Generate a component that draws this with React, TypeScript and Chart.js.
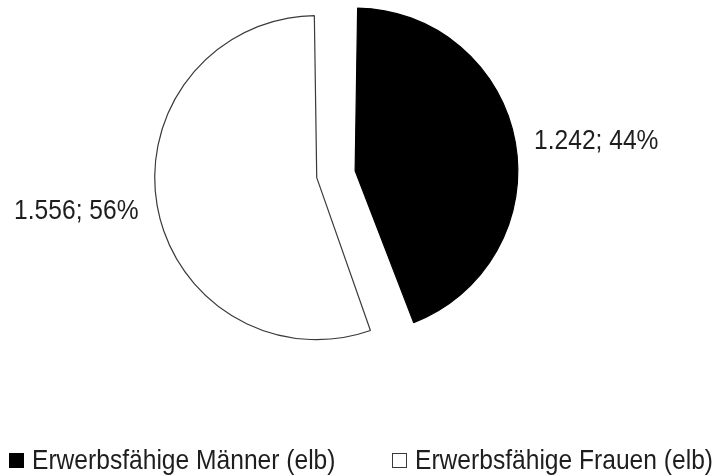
import { useEffect, useRef } from 'react';
import { Chart, registerables } from 'chart.js';

Chart.register(...registerables);

const categories = ['Erwerbsfähige Männer (elb)', 'Erwerbsfähige Frauen (elb)'];
const values = [1242, 1556];
const fillColors = ['#000000', '#ffffff'];
const borderColors = ['#000000', '#3a3a3a'];
const explode = [96, 60];

const FONT_FAMILY = '"Liberation Sans", Arial, Helvetica, sans-serif';
const FONT_SIZE = 24.6;
const V_STRETCH = 1.14;
const TEXT_COLOR = '#1e1e1e';

function fmtDe(n: number): string {
  return String(n).replace(/\B(?=(\d{3})+(?!\d))/g, '.');
}

function drawText(ctx: CanvasRenderingContext2D, text: string, x: number, y: number, align: CanvasTextAlign) {
  ctx.save();
  ctx.translate(x, y);
  ctx.scale(1, V_STRETCH);
  ctx.font = `${FONT_SIZE}px ${FONT_FAMILY}`;
  ctx.fillStyle = TEXT_COLOR;
  ctx.textAlign = align;
  ctx.textBaseline = 'alphabetic';
  ctx.fillText(text, 0, 0);
  ctx.restore();
}

const capHalf = (0.716 * FONT_SIZE * V_STRETCH) / 2;

const labelPlugin = {
  id: 'pieLabels',
  afterDatasetsDraw(chart: any) {
    const ctx = chart.ctx as CanvasRenderingContext2D;
    const meta = chart.getDatasetMeta(0);
    const data = chart.data.datasets[0].data as number[];
    const total = data.reduce((a, b) => a + b, 0);
    meta.data.forEach((arc: any, i: number) => {
      const p = arc.getProps(['x', 'y', 'startAngle', 'endAngle', 'outerRadius', 'circumference'], true);
      const t = (arc.options.offset || 0) / 4;
      const mid = (p.startAngle + p.endAngle) / 2;
      const fix = 1 - Math.sin(Math.min(Math.PI, p.circumference || 0));
      const r = p.outerRadius + t * fix;
      const cx = p.x + Math.cos(mid) * t;
      const cy = p.y + Math.sin(mid) * t;
      const d = r + 19;
      const ax = cx + Math.cos(mid) * d;
      const ay = cy + Math.sin(mid) * d;
      const pct = Math.round((data[i] / total) * 100);
      const text = `${fmtDe(data[i])}; ${pct}%`;
      drawText(ctx, text, ax, ay + capHalf, Math.cos(mid) >= 0 ? 'left' : 'right');
    });
  },
};

const legendPlugin = {
  id: 'bottomLegend',
  afterDraw(chart: any) {
    const ctx = chart.ctx as CanvasRenderingContext2D;
    const ds = chart.data.datasets[0];
    const boxX = [9, 392];
    const boxY = 453;
    const box = 15;
    (chart.data.labels as string[]).forEach((label, i) => {
      ctx.save();
      ctx.fillStyle = ds.backgroundColor[i];
      ctx.fillRect(boxX[i], boxY, box, box);
      ctx.strokeStyle = i === 0 ? '#000000' : '#3a3a3a';
      ctx.lineWidth = 1;
      ctx.strokeRect(boxX[i] + 0.5, boxY + 0.5, box - 1, box - 1);
      ctx.restore();
      drawText(ctx, label, boxX[i] + 23, 469, 'left');
    });
  },
};

export default function App() {
  const canvasRef = useRef<HTMLCanvasElement | null>(null);

  useEffect(() => {
    document.body.style.margin = '0';
    const canvas = canvasRef.current;
    if (!canvas) return;
    const chart = new Chart(canvas, {
      type: 'pie',
      data: {
        labels: categories,
        datasets: [
          {
            data: values,
            backgroundColor: fillColors,
            borderColor: borderColors,
            borderWidth: 1.2,
            offset: explode,
            hoverOffset: 0,
          },
        ],
      },
      options: {
        responsive: false,
        animation: false,
        radius: 147,
        layout: { padding: { left: 0, right: 55, top: 0, bottom: 126 } },
        plugins: {
          legend: { display: false },
          tooltip: { enabled: false },
        },
      } as any,
      plugins: [labelPlugin, legendPlugin],
    });
    return () => chart.destroy();
  }, []);

  return (
    <div style={{ position: 'fixed', left: 0, top: 0, width: 718, height: 476, background: '#fff' }}>
      <canvas ref={canvasRef} width={718} height={476} style={{ display: 'block' }} />
    </div>
  );
}
